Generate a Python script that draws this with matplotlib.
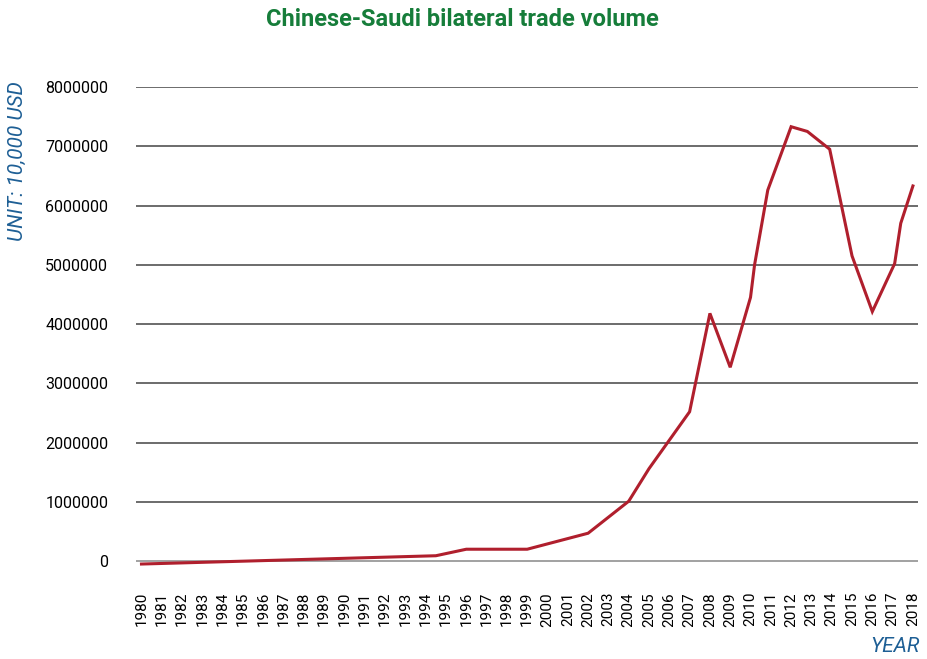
import matplotlib
matplotlib.use('Agg')
from matplotlib import pyplot as plt

# Chinese-Saudi bilateral trade volume, unit 10,000 USD
# x values are read off the picture, the line has a few extra kinks between years
years = [1980, 1994.5, 1996, 1999, 2002, 2004, 2005, 2007, 2008, 2009, 2010,
         2010.2, 2010.85, 2012, 2012.8, 2013.9, 2015, 2016, 2017.1, 2017.4, 2018]
volume = [-50000, 90000, 200000, 200000, 470000, 1010000, 1560000, 2520000,
          4180000, 3270000, 4450000, 5000000, 6260000, 7330000, 7250000,
          6950000, 5150000, 4210000, 5020000, 5700000, 6330000]

tick_years = list(range(1980, 2019))
y_ticks = [0, 1000000, 2000000, 3000000, 4000000, 5000000, 6000000, 7000000, 8000000]

fonts = ['Liberation Sans Narrow', 'Roboto', 'DejaVu Sans']
plt.rcParams['font.family'] = fonts

green = '#167d3a'
blue = '#1e5f95'
red = '#b01f2d'

fig = plt.figure(figsize=(9.27, 6.59), dpi=100)
ax = fig.add_axes([136 / 927, 92 / 659, (918 - 136) / 927, (572 - 92) / 659])

ax.plot(years, volume, color=red, linewidth=2.2, solid_joinstyle='miter', zorder=3)

for v in y_ticks:
    ax.axhline(v, color='#444444' if v else '#888888', linewidth=1.1, zorder=1)

ax.set_xlim(1979.73, 2018.25)
ax.set_ylim(-100000, 8000000)
ax.set_xticks(tick_years)
ax.set_xticklabels([str(y) for y in tick_years], rotation=90, fontsize=11, va='top')
ax.set_yticks(y_ticks)
ax.set_yticklabels([str(v) for v in y_ticks], fontsize=11.5)
ax.tick_params(axis='x', length=0, pad=18)
ax.tick_params(axis='y', length=0, pad=20)
for s in ax.spines.values():
    s.set_visible(False)

fig.text(462 / 927, 1 - 20 / 659, 'Chinese-Saudi bilateral trade volume', ha='center', va='center',
         fontsize=17, fontweight='bold', color=green)
fig.text(17 / 927, 1 - 161 / 659, 'UNIT: 10,000 USD', rotation=90, ha='center', va='center',
         fontsize=15, style='italic', color=blue)
fig.text(920 / 927, 1 - 646 / 659, 'YEAR', ha='right', va='center',
         fontsize=15, style='italic', color=blue)

fig.savefig('out.png', dpi=100)
